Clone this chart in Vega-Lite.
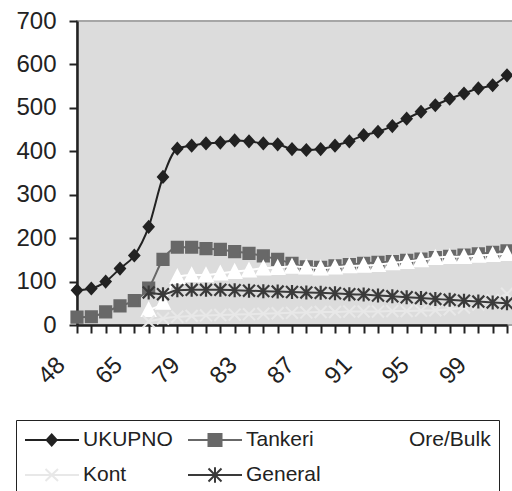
{
  "$schema": "https://vega.github.io/schema/vega-lite/v6.json",
  "width": 436,
  "height": 304,
  "autosize": {"type": "none"},
  "padding": {"left": 77, "top": 21, "right": 0, "bottom": 166},
  "background": "white",
  "config": {"view": {"fill": "#dcdcdc", "stroke": "#a6a6a6", "strokeWidth": 2}, "font": "Liberation Sans"},
  "data": {"values": [
    {"s":"UKUPNO","yr":"48","v":80},{"s":"UKUPNO","yr":"50","v":84},{"s":"UKUPNO","yr":"55","v":100},{"s":"UKUPNO","yr":"60","v":130},{"s":"UKUPNO","yr":"65","v":160},{"s":"UKUPNO","yr":"70","v":226},{"s":"UKUPNO","yr":"75","v":341},{"s":"UKUPNO","yr":"77","v":406},{"s":"UKUPNO","yr":"79","v":413},{"s":"UKUPNO","yr":"80","v":418},{"s":"UKUPNO","yr":"81","v":420},{"s":"UKUPNO","yr":"82","v":425},{"s":"UKUPNO","yr":"83","v":423},{"s":"UKUPNO","yr":"84","v":418},{"s":"UKUPNO","yr":"85","v":416},{"s":"UKUPNO","yr":"86","v":405},{"s":"UKUPNO","yr":"87","v":403},{"s":"UKUPNO","yr":"88","v":405},{"s":"UKUPNO","yr":"89","v":413},{"s":"UKUPNO","yr":"90","v":423},{"s":"UKUPNO","yr":"91","v":437},{"s":"UKUPNO","yr":"92","v":445},{"s":"UKUPNO","yr":"93","v":458},{"s":"UKUPNO","yr":"94","v":475},{"s":"UKUPNO","yr":"95","v":491},{"s":"UKUPNO","yr":"96","v":506},{"s":"UKUPNO","yr":"97","v":521},{"s":"UKUPNO","yr":"98","v":533},{"s":"UKUPNO","yr":"99","v":545},{"s":"UKUPNO","yr":"00","v":552},{"s":"UKUPNO","yr":"01","v":575},
    {"s":"Tankeri","yr":"48","v":18},{"s":"Tankeri","yr":"50","v":19},{"s":"Tankeri","yr":"55","v":30},{"s":"Tankeri","yr":"60","v":44},{"s":"Tankeri","yr":"65","v":56},{"s":"Tankeri","yr":"70","v":85},{"s":"Tankeri","yr":"75","v":151},{"s":"Tankeri","yr":"77","v":179},{"s":"Tankeri","yr":"79","v":179},{"s":"Tankeri","yr":"80","v":176},{"s":"Tankeri","yr":"81","v":174},{"s":"Tankeri","yr":"82","v":169},{"s":"Tankeri","yr":"83","v":165},{"s":"Tankeri","yr":"84","v":159},{"s":"Tankeri","yr":"85","v":151},{"s":"Tankeri","yr":"86","v":142},{"s":"Tankeri","yr":"87","v":134},{"s":"Tankeri","yr":"88","v":133},{"s":"Tankeri","yr":"89","v":136},{"s":"Tankeri","yr":"90","v":139},{"s":"Tankeri","yr":"91","v":142},{"s":"Tankeri","yr":"92","v":144},{"s":"Tankeri","yr":"93","v":146},{"s":"Tankeri","yr":"94","v":149},{"s":"Tankeri","yr":"95","v":152},{"s":"Tankeri","yr":"96","v":155},{"s":"Tankeri","yr":"97","v":158},{"s":"Tankeri","yr":"98","v":161},{"s":"Tankeri","yr":"99","v":164},{"s":"Tankeri","yr":"00","v":167},{"s":"Tankeri","yr":"01","v":171},
    {"s":"Ore/Bulk","yr":"70","v":35},{"s":"Ore/Bulk","yr":"75","v":52},{"s":"Ore/Bulk","yr":"77","v":111},{"s":"Ore/Bulk","yr":"79","v":115},{"s":"Ore/Bulk","yr":"80","v":115},{"s":"Ore/Bulk","yr":"81","v":119},{"s":"Ore/Bulk","yr":"82","v":123},{"s":"Ore/Bulk","yr":"83","v":126},{"s":"Ore/Bulk","yr":"84","v":131},{"s":"Ore/Bulk","yr":"85","v":132},{"s":"Ore/Bulk","yr":"86","v":135},{"s":"Ore/Bulk","yr":"87","v":133},{"s":"Ore/Bulk","yr":"88","v":131},{"s":"Ore/Bulk","yr":"89","v":133},{"s":"Ore/Bulk","yr":"90","v":136},{"s":"Ore/Bulk","yr":"91","v":137},{"s":"Ore/Bulk","yr":"92","v":139},{"s":"Ore/Bulk","yr":"93","v":143},{"s":"Ore/Bulk","yr":"94","v":146},{"s":"Ore/Bulk","yr":"95","v":150},{"s":"Ore/Bulk","yr":"96","v":155},{"s":"Ore/Bulk","yr":"97","v":157},{"s":"Ore/Bulk","yr":"98","v":157},{"s":"Ore/Bulk","yr":"99","v":160},{"s":"Ore/Bulk","yr":"00","v":162},{"s":"Ore/Bulk","yr":"01","v":164},
    {"s":"Kont","yr":"70","v":8},{"s":"Kont","yr":"75","v":15},{"s":"Kont","yr":"77","v":19},{"s":"Kont","yr":"79","v":21},{"s":"Kont","yr":"80","v":22},{"s":"Kont","yr":"81","v":23},{"s":"Kont","yr":"82","v":24},{"s":"Kont","yr":"83","v":25},{"s":"Kont","yr":"84","v":26},{"s":"Kont","yr":"85","v":27},{"s":"Kont","yr":"86","v":28},{"s":"Kont","yr":"87","v":29},{"s":"Kont","yr":"88","v":30},{"s":"Kont","yr":"89","v":30},{"s":"Kont","yr":"90","v":31},{"s":"Kont","yr":"91","v":31},{"s":"Kont","yr":"92","v":31},{"s":"Kont","yr":"93","v":32},{"s":"Kont","yr":"94","v":32},{"s":"Kont","yr":"95","v":33},{"s":"Kont","yr":"96","v":34},{"s":"Kont","yr":"97","v":36},{"s":"Kont","yr":"98","v":40},{"s":"Kont","yr":"99","v":47},{"s":"Kont","yr":"00","v":57},{"s":"Kont","yr":"01","v":72},
    {"s":"General","yr":"70","v":75},{"s":"General","yr":"75","v":71},{"s":"General","yr":"77","v":80},{"s":"General","yr":"79","v":81},{"s":"General","yr":"80","v":81},{"s":"General","yr":"81","v":81},{"s":"General","yr":"82","v":80},{"s":"General","yr":"83","v":79},{"s":"General","yr":"84","v":78},{"s":"General","yr":"85","v":77},{"s":"General","yr":"86","v":76},{"s":"General","yr":"87","v":75},{"s":"General","yr":"88","v":74},{"s":"General","yr":"89","v":73},{"s":"General","yr":"90","v":71},{"s":"General","yr":"91","v":70},{"s":"General","yr":"92","v":68},{"s":"General","yr":"93","v":66},{"s":"General","yr":"94","v":64},{"s":"General","yr":"95","v":62},{"s":"General","yr":"96","v":60},{"s":"General","yr":"97","v":58},{"s":"General","yr":"98","v":56},{"s":"General","yr":"99","v":54},{"s":"General","yr":"00","v":52},{"s":"General","yr":"01","v":50}
  ]},
  "encoding": {
    "x": {"field": "yr", "type": "ordinal",
      "scale": {"type": "point", "padding": 0, "range": [0, 430],
        "domain": ["48","50","55","60","65","70","75","77","79","80","81","82","83","84","85","86","87","88","89","90","91","92","93","94","95","96","97","98","99","00","01"]},
      "axis": {"title": null, "domainColor": "#222", "domainWidth": 2.5, "tickColor": "#222", "tickWidth": 2, "tickSize": 8,
        "labelExpr": "indexof(['48','65','79','83','87','91','95','99'], datum.value) >= 0 ? datum.value : ''",
        "labelOverlap": false, "labelAngle": -45, "labelAlign": "right", "labelBaseline": "middle",
        "labelFontSize": 24, "labelColor": "#222", "labelPadding": 28, "labelOffset": -16}},
    "y": {"field": "v", "type": "quantitative", "scale": {"domain": [0, 700]},
      "axis": {"title": null, "values": [0,100,200,300,400,500,600,700], "grid": false, "domainColor": "#222", "domainWidth": 2.5,
        "tickColor": "#222", "tickWidth": 2, "tickSize": 8, "labelFontSize": 24, "labelColor": "#222", "labelPadding": 13}}
  },
  "layer": [
    {"transform": [{"filter": "datum.s === 'UKUPNO'"}],
     "mark": {"type": "line", "stroke": "#222222", "strokeWidth": 2, "interpolate": "monotone"}, "encoding": {}},
    {"transform": [{"filter": "datum.s === 'UKUPNO'"}],
     "mark": {"type": "point", "shape": "M-0.72,0L0,-0.8L0.72,0L0,0.8Z", "filled": true, "fill": "#222222", "stroke": "#222222", "size": 196, "strokeWidth": 2, "opacity": 1}},
    {"transform": [{"filter": "datum.s === 'Tankeri'"}],
     "mark": {"type": "line", "stroke": "#686868", "strokeWidth": 2, "interpolate": "monotone"}, "encoding": {}},
    {"transform": [{"filter": "datum.s === 'Tankeri'"}],
     "mark": {"type": "point", "shape": "M-0.8,-0.8L0.8,-0.8L0.8,0.8L-0.8,0.8Z", "filled": true, "fill": "#686868", "stroke": "#686868", "size": 196, "strokeWidth": 2, "opacity": 1}},
    {"transform": [{"filter": "datum.s === 'Ore/Bulk'"}],
     "mark": {"type": "line", "stroke": "#ffffff", "strokeWidth": 2, "interpolate": "monotone"}, "encoding": {}},
    {"transform": [{"filter": "datum.s === 'Ore/Bulk'"}],
     "mark": {"type": "point", "shape": "M0,-0.95L0.95,0.9L-0.95,0.9Z", "filled": true, "fill": "#ffffff", "stroke": "#ffffff", "size": 196, "strokeWidth": 2, "opacity": 1}},
    {"transform": [{"filter": "datum.s === 'Kont'"}],
     "mark": {"type": "line", "stroke": "#e8e8e8", "strokeWidth": 2, "interpolate": "monotone"}, "encoding": {}},
    {"transform": [{"filter": "datum.s === 'Kont'"}],
     "mark": {"type": "point", "shape": "M-0.85,-0.85L0.85,0.85M-0.85,0.85L0.85,-0.85", "filled": true, "fill": "#e8e8e8", "stroke": "#e8e8e8", "size": 196, "strokeWidth": 2, "opacity": 1}},
    {"transform": [{"filter": "datum.s === 'General'"}],
     "mark": {"type": "line", "stroke": "#3a3a3a", "strokeWidth": 2, "interpolate": "monotone"}, "encoding": {}},
    {"transform": [{"filter": "datum.s === 'General'"}],
     "mark": {"type": "point", "shape": "M-0.85,-0.85L0.85,0.85M-0.85,0.85L0.85,-0.85M0,-1L0,1", "filled": true, "fill": "#3a3a3a", "stroke": "#3a3a3a", "size": 196, "strokeWidth": 2.2, "opacity": 1}},
    {
      "mark": {"type": "point", "filled": true, "size": 400, "opacity": 0, "strokeWidth": 2},
      "encoding": {
        "color": {"field": "s", "type": "nominal",
          "scale": {"domain": ["UKUPNO","Tankeri","Ore/Bulk","Kont","General"], "range": ["#222222","#686868","#ffffff","#e8e8e8","#3a3a3a"]},
          "legend": {"orient": "none", "legendX": -61, "legendY": 399, "direction": "horizontal", "columns": 3, "gridAlign": "all",
            "title": null, "labelFontSize": 21, "labelColor": "#222", "labelLimit": 300, "symbolSize": 400, "labelOffset": 37,
            "symbolOpacity": 1, "symbolStrokeWidth": 2,
            "columnPadding": 11, "rowPadding": 12, "padding": 8, "strokeColor": "#222", "fillColor": "white"}},
        "stroke": {"field": "s", "type": "nominal",
          "scale": {"domain": ["UKUPNO","Tankeri","Ore/Bulk","Kont","General"], "range": ["#222222","#686868","#ffffff","#e8e8e8","#3a3a3a"]}},
        "shape": {"field": "s", "type": "nominal",
          "scale": {"domain": ["UKUPNO","Tankeri","Ore/Bulk","Kont","General"],
            "range": [
              "M-1,0L4.4,0M1.17,0L1.67,-0.55L2.17,0L1.67,0.55ZM1.32,0L1.67,-0.385L2.02,0L1.67,0.385ZM1.47,0L1.67,-0.22L1.87,0L1.67,0.22Z",
              "M-1,0L4.4,0M1.05,-0.6L2.35,-0.6L2.35,0.6L1.05,0.6ZM1.2,-0.45L2.2,-0.45L2.2,0.45L1.2,0.45ZM1.35,-0.3L2.05,-0.3L2.05,0.3L1.35,0.3ZM1.5,-0.15L1.9,-0.15L1.9,0.15L1.5,0.15Z",
              "M-1,0L4.4,0M1.7,-0.7L2.4,0.6L1,0.6Z",
              "M-1,0L4.4,0M1.05,-0.6L2.3,0.6M1.05,0.6L2.3,-0.6",
              "M-1,0L4.4,0M1.05,-0.65L2.35,0.65M1.05,0.65L2.35,-0.65M1.7,-0.78L1.7,0.78"]}}
      }
    }
  ]
}
